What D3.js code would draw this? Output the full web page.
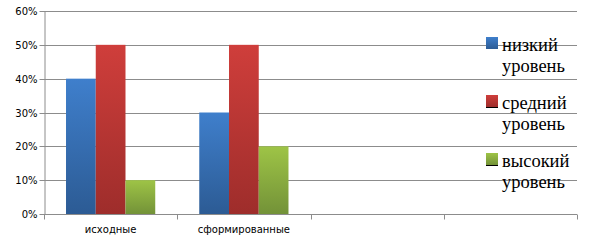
<!DOCTYPE html>
<html><head><meta charset="utf-8">
<script src="https://cdnjs.cloudflare.com/ajax/libs/d3/7.8.5/d3.min.js"></script>
<style>body{margin:0;background:#fff}svg{display:block}</style>
</head><body>
<svg id="c" width="589" height="241"></svg>
<script>
const categories = ["исходные", "сформированные", "", ""];
const seriesNames = ["низкий уровень", "средний уровень", "высокий уровень"];
const low = [0.40, 0.30, null, null];
const mid = [0.50, 0.50, null, null];
const high = [0.10, 0.20, null, null];
const yTicks = [0, 0.1, 0.2, 0.3, 0.4, 0.5, 0.6];

const series = [low, mid, high];
const colors = [["#3f7fcc", "#2c5b94"], ["#cf3e3b", "#9e2d2b"], ["#9ec446", "#739238"]];

const svg = d3.select("#c");
const m = {l: 44, r: 12, t: 11, b: 27};
const W = 589, H = 241;
const x = d3.scaleBand().domain(d3.range(categories.length)).range([m.l, W - m.r]).paddingInner(0).paddingOuter(0);
const y = d3.scaleLinear().domain([0, 0.6]).range([H - m.b, m.t]);
const inner = d3.scaleBand().domain(d3.range(series.length)).range([0, x.bandwidth()]).paddingOuter(0.74).paddingInner(0);

const defs = svg.append("defs");
colors.forEach((c, i) => {
  const g = defs.append("linearGradient").attr("id", "g" + i).attr("x1", 0).attr("y1", 0).attr("x2", 0).attr("y2", 1);
  g.append("stop").attr("offset", "0%").attr("stop-color", c[0]);
  g.append("stop").attr("offset", "100%").attr("stop-color", c[1]);
});

// gridlines
svg.append("g").selectAll("line").data(yTicks.slice(1)).join("line")
  .attr("x1", m.l).attr("x2", W - m.r)
  .attr("y1", d => Math.round(y(d)) + 0.5).attr("y2", d => Math.round(y(d)) + 0.5)
  .attr("stroke", "#8c8c8c").attr("stroke-width", 1);

// y axis
const ya = svg.append("g").attr("transform", `translate(${m.l + 0.5},0)`)
  .call(d3.axisLeft(y).tickValues(yTicks).tickFormat(d3.format(".0%")).tickSize(5).tickSizeOuter(0));
ya.select(".domain").attr("stroke", "#8c8c8c");
ya.selectAll(".tick line").attr("stroke", "#8c8c8c");
ya.selectAll(".tick").attr("transform", d => `translate(0,${Math.round(y(d)) + 0.5})`);
ya.selectAll("text").attr("font-family", "DejaVu Sans").attr("font-size", 10).attr("fill", "#000").attr("x", -7);

// bars
series.forEach((s, si) => {
  svg.append("g").selectAll("rect").data(s.map((v, i) => ({v, i})).filter(d => d.v != null)).join("rect")
    .attr("x", d => x(d.i) + inner(si))
    .attr("width", inner.bandwidth())
    .attr("y", d => y(d.v))
    .attr("height", d => y(0) - y(d.v))
    .attr("fill", `url(#g${si})`);
});

// x axis
const base = Math.round(y(0)) + 0.5;
svg.append("line").attr("x1", m.l).attr("x2", W - m.r).attr("y1", base).attr("y2", base).attr("stroke", "#8c8c8c");
const bounds = d3.range(categories.length + 1).map(i => m.l + i * x.bandwidth());
svg.append("g").selectAll("line").data(bounds).join("line")
  .attr("x1", d => Math.round(d) + 0.5).attr("x2", d => Math.round(d) + 0.5)
  .attr("y1", base).attr("y2", base + 5).attr("stroke", "#8c8c8c");
svg.append("g").selectAll("text").data(categories).join("text")
  .attr("x", (d, i) => x(i) + x.bandwidth() / 2).attr("y", 233)
  .attr("text-anchor", "middle").attr("font-family", "DejaVu Sans").attr("font-size", 10).attr("fill", "#000")
  .text(d => d);

// legend
const lg = svg.append("g");
seriesNames.forEach((n, i) => {
  const top = 37 + i * 58;
  lg.append("rect").attr("x", 486).attr("y", top).attr("width", 12).attr("height", 12).attr("fill", `url(#g${i})`);
  if (i > 0) lg.append("line").attr("x1", 486).attr("x2", 498).attr("y1", top + 12.5).attr("y2", top + 12.5).attr("stroke", "#000");
  const words = n.split(" ");
  words.forEach((w, j) => {
    lg.append("text").attr("x", 502).attr("y", top + 14 + j * 21)
      .attr("font-family", "Liberation Serif").attr("font-size", 18.5).attr("fill", "#000").text(w);
  });
});
</script>
</body></html>
